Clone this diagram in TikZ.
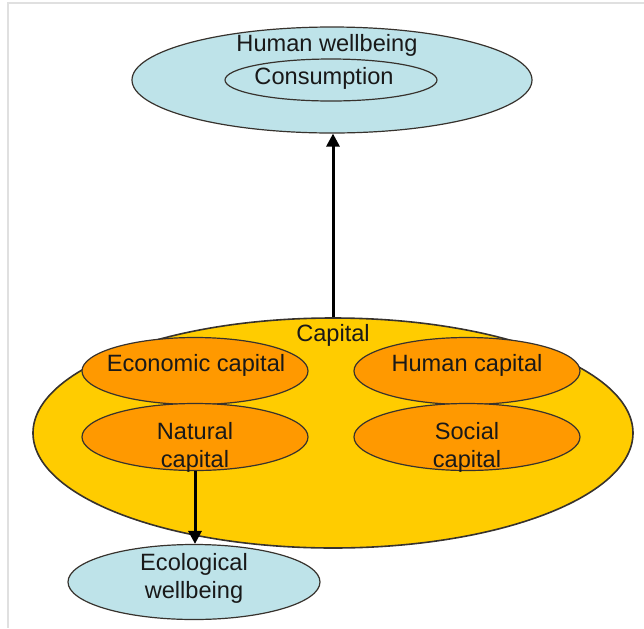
\documentclass[tikz,border=0pt]{standalone}
\usepackage{fontspec}
\setmainfont{Liberation Sans}
\usetikzlibrary{shapes,arrows.meta,positioning}
\definecolor{wellblue}{RGB}{190,227,233}
\definecolor{capyellow}{RGB}{255,204,0}
\definecolor{partorange}{RGB}{255,153,0}
\definecolor{edgegray}{RGB}{55,50,45}
\definecolor{txtgray}{RGB}{25,25,25}

\begin{document}
\begin{tikzpicture}[x=0.5pt,y=-0.5pt,
	blob/.style={ellipse,draw=edgegray,line width=0.6pt,inner sep=0pt},
	well/.style={blob,fill=wellblue},
	part/.style={blob,fill=partorange,minimum width=113pt,minimum height=33.5pt},
	lbl/.style={text=txtgray,font=\fontsize{11.8}{14}\selectfont,align=center,inner sep=0pt},
	flow/.style={line width=1.5pt,-{Triangle[length=6.5pt,width=6.5pt]}}]
	\useasboundingbox (0,0) rectangle (644,628);
	\draw[black!12,line width=0.6pt] (644,3) -- (8,3) -- (8,628);
	% wellbeing at the top
	\node[well,minimum width=200pt,minimum height=53pt] (hw) at (332,80) {};
	\node[well,minimum width=106pt,minimum height=21pt] (cons) at (331,80) {};
	\node[lbl] (hwt) at (327,45) {Human wellbeing};
	\node[lbl] (const) at (324,78) {Consumption};
	% capital and its four parts
	\node[blob,fill=capyellow,line width=0.8pt,minimum width=300pt,minimum height=115pt] (cap) at (333,433) {};
	\node[lbl] (capt) at (333,335) {Capital};
	\node[part] (econ) at (195,371) {};
	\node[part] (humcap) at (467,371) {};
	\node[part] (nat) at (195,437) {};
	\node[part] (soc) at (467,437) {};
	\node[lbl] (econt) at (196,365) {Economic capital};
	\node[lbl] (humcapt) at (467,365) {Human capital};
	\node[lbl] (natt) at (195,447) {Natural\\capital};
	\node[lbl] (soct) at (467,447) {Social\\capital};
	% ecological wellbeing
	\node[well,minimum width=126pt,minimum height=37.5pt] (eco) at (194,582) {};
	\node[lbl] (ecot) at (194,578) {Ecological\\wellbeing};
	% arrows
	\draw[flow] (cap.north) -- (cap.north |- hw.south);
	\draw[flow] (nat.south) -- (nat.south |- eco.north);
\end{tikzpicture}
\end{document}
